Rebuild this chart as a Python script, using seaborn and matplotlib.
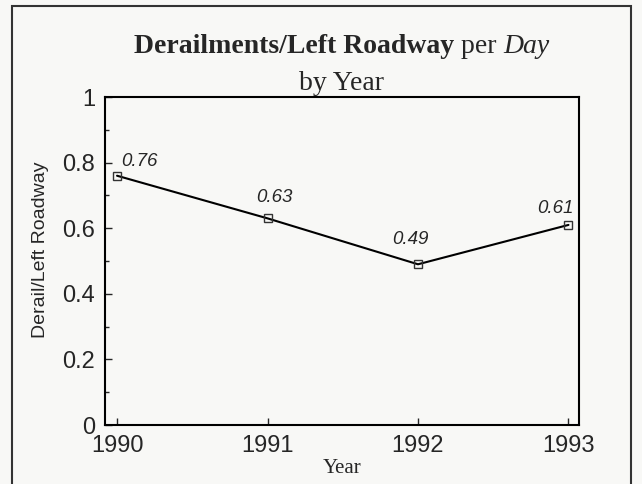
import matplotlib
matplotlib.use('Agg')
import matplotlib.pyplot as plt
import seaborn as sns
import pandas as pd
from matplotlib.patches import Rectangle
from matplotlib.ticker import MultipleLocator
from matplotlib.offsetbox import TextArea, HPacker, AnchoredOffsetbox

sns.set_style("ticks")
plt.rcParams['font.family'] = ['Liberation Sans', 'DejaVu Sans']

# Datos
years = [1990, 1991, 1992, 1993]
rates = [0.76, 0.63, 0.49, 0.61]
value_labels = ['0.76', '0.63', '0.49', '0.61']
ytick_vals = [0, 0.2, 0.4, 0.6, 0.8, 1]
ytick_labels = ['0', '0.2', '0.4', '0.6', '0.8', '1']

df = pd.DataFrame({'Year': years, 'Rate': rates})

bg = '#f8f8f6'
serif = 'Liberation Serif'
fig = plt.figure(figsize=(6.42, 4.84), dpi=100, facecolor=bg)
ax = fig.add_axes([105 / 642, 1 - 425 / 484, 474 / 642, 328 / 484])
ax.set_facecolor(bg)

# Marco exterior
fig.patches.append(Rectangle((12 / 642, -0.02), 619 / 642, 1.0 - 6 / 484 + 0.02,
                             transform=fig.transFigure, fill=False,
                             edgecolor='#333333', linewidth=1.5))

sns.lineplot(data=df, x='Year', y='Rate', ax=ax, color='black', linewidth=1.5,
             marker='s', markersize=6, markerfacecolor='none',
             markeredgecolor='#333333', markeredgewidth=1.0)

# Etiquetas de valores
offsets = [(22, 14), (7, 21), (-8, 25), (-13, 16)]
for x, y, lab, (dx, dy) in zip(years, rates, value_labels, offsets):
    ax.annotate(lab, (x, y), xytext=(dx, dy), textcoords='offset pixels',
                ha='center', va='center', fontsize=13.5, style='italic')

ax.set_xlim(1989.92, 1993.07)
ax.set_ylim(0, 1)
ax.set_xticks(years)
ax.set_xticklabels([str(y) for y in years], fontsize=17)
ax.set_yticks(ytick_vals)
ax.set_yticklabels(ytick_labels, fontsize=17)
ax.yaxis.set_minor_locator(MultipleLocator(0.1))
ax.tick_params(axis='both', which='both', direction='in', length=5, width=1)
ax.tick_params(axis='y', which='minor', length=3)
ax.tick_params(axis='x', pad=7)
ax.tick_params(axis='y', pad=7)

for s in ax.spines.values():
    s.set_visible(True)
    s.set_linewidth(1.5)
    s.set_color('black')

ax.set_xlabel('Year', family=serif, fontsize=15)
ax.xaxis.set_label_coords(0.5, (425 - 459) / 328)
ax.set_ylabel('Derail/Left Roadway', fontsize=14)
ax.yaxis.set_label_coords((49 - 105) / 474, (425 - 250) / 328)

# Titulo
parts = [TextArea('Derailments/Left Roadway', textprops=dict(fontsize=20, family=serif, fontweight='bold')),
         TextArea(' per ', textprops=dict(fontsize=20, family=serif)),
         TextArea('Day', textprops=dict(fontsize=20, family=serif, style='italic'))]
box = HPacker(children=parts, align='baseline', pad=0, sep=0)
anch = AnchoredOffsetbox(loc='lower center', child=box, frameon=False,
                         bbox_to_anchor=(342 / 642, 1 - 59 / 484),
                         bbox_transform=fig.transFigure, pad=0, borderpad=0)
fig.add_artist(anch)
fig.text(342 / 642, 1 - 90 / 484, 'by Year', ha='center', va='baseline',
         fontsize=20, family=serif)

plt.savefig('out.png', dpi=100, facecolor=bg)
